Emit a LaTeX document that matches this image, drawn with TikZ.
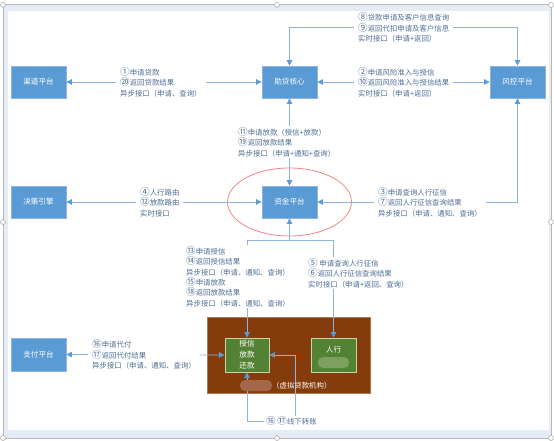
\documentclass[tikz,border=0pt]{standalone}
\usepackage{fontspec}
\setmainfont{Noto Sans CJK SC}
\newcommand\cnum[1]{{\fontsize{9.6}{10.4}\selectfont #1}}
\usetikzlibrary{arrows.meta,calc}
\definecolor{boxblue}{HTML}{5B9BD5}
\definecolor{boxborder}{HTML}{8DB4E2}
\definecolor{linec}{HTML}{8EB4DC}
\definecolor{arrowc}{HTML}{5B9BD5}
\definecolor{lbltext}{HTML}{4E6E96}
\definecolor{brownfill}{HTML}{843C0C}
\definecolor{brownborder}{HTML}{B07A50}
\definecolor{pillbrown}{HTML}{A5674A}
\definecolor{greenfill}{HTML}{548235}
\definecolor{greenborder}{HTML}{C5D6A8}
\definecolor{pillgreen}{HTML}{7DA05F}
\definecolor{redring}{HTML}{F4868A}
\definecolor{bandc}{HTML}{E6ECF5}
\definecolor{framec}{HTML}{B8B8B8}
\tikzset{
  bluebox/.style={draw=boxborder, fill=boxblue, text=white, line width=0.8pt,
    minimum width=55pt, minimum height=32pt, inner sep=0pt, font=\fontsize{7.6}{10}\selectfont},
  greenbox/.style={draw=greenborder, fill=greenfill, text=white, line width=0.8pt,
    minimum width=44pt, minimum height=34pt, inner sep=0pt, align=center,
    font=\fontsize{7.6}{11}\selectfont},
  lbl/.style={fill=white, text=lbltext, align=left, anchor=west, inner ysep=1pt, inner xsep=4pt,
    font=\fontsize{7.4}{10.4}\selectfont},
  conn/.style={draw=linec, line width=0.7pt},
  tipboth/.style={{Triangle[length=5.5pt,width=5.5pt,color=arrowc]}-{Triangle[length=5.5pt,width=5.5pt,color=arrowc]}},
  tipend/.style={-{Triangle[length=5.5pt,width=5.5pt,color=arrowc]}},
  tipstart/.style={{Triangle[length=5.5pt,width=5.5pt,color=arrowc]}-},
  handle/.style={draw=gray!70, fill=white, line width=0.5pt}
}
\begin{document}
\begin{tikzpicture}[x=1pt,y=-1pt]
\useasboundingbox (0,0) rectangle (554,441);
% frame
\fill[white] (0,0) rectangle (554,441);
\fill[bandc] (3,4) rectangle (551,438);
\draw[framec, line width=0.8pt] (3,4) rectangle (551,438);
\fill[white] (8,11) rectangle (549,430);
% boxes
\node[bluebox] (qd) at (38.5,82) {渠道平台};
\node[bluebox] (zd) at (289.5,82) {助贷核心};
\node[bluebox] (fk) at (517.5,82) {风控平台};
\node[bluebox] (jc) at (38.5,202) {决策引擎};
\node[bluebox] (zj) at (289.5,202) {资金平台};
\node[bluebox, minimum height=33pt] (zf) at (38.5,354.5) {支付平台};
\node[draw=brownborder, fill=brownfill, line width=0.6pt, minimum width=163pt, minimum height=76pt, inner sep=0pt] (jg) at (288.5,355) {};
\node[greenbox] (sx) at (247,355) {授信\\放款\\还款};
\node[greenbox, minimum width=45pt] (rh) at (333.5,355) {人行\\\phantom{人行}};
% red ring
\draw[redring, line width=0.8pt] (zj.center) ellipse [x radius=62pt, y radius=34pt];
% coordinates
\coordinate (topy) at (0,27.5);
\coordinate (br) at (289.5,240);
\coordinate (xr) at (295,416);
\coordinate (xl) at (264,421);
% connectors
\draw[conn, tipboth] (qd.east) -- (zd.west);
\draw[conn, tipboth] (zd.east) -- (fk.west);
\draw[conn, tipboth] (zd.north) |- (topy -| fk.north) -- (fk.north);
\draw[conn, tipboth] (zd.south) -- (zj.north);
\draw[conn, tipboth] (jc.east) -- (zj.west);
\draw[conn, tipboth] (fk.south) |- (zj.east);
\draw[conn, tipstart] (zj.south) -- (br);
\draw[conn, tipend] (br) -| (sx.north);
\draw[conn, tipend] (br) -| (rh.north);
\draw[conn, tipboth] (zf.east) -- (sx.west);
\draw[conn, tipend] (xl) -| (sx.south);
\draw[conn, tipend] (xr) |- (sx.east);
% redacted pills
\fill[rounded corners=5pt, fill=pillbrown] (240,380) rectangle (272,391);
\fill[rounded corners=5pt, fill=pillgreen] (318,357) rectangle (349,368);
\node[text=white, anchor=west, inner sep=0pt, font=\fontsize{7.4}{10}\selectfont] (xn) at (272,386) {（虚拟贷款机构）};
% labels
\node[lbl] (l1) at (116,82) {\cnum{①}申请贷款\\\cnum{⑳}返回贷款结果\\异步接口（申请、查询）};
\node[lbl] (l2) at (354,82) {\cnum{②}申请风险准入与授信\\\cnum{⑩}返回风险准入与授信结果\\实时接口（申请+返回）};
\node[lbl] (l3) at (354,27.5) {\cnum{⑧}贷款申请及客户信息查询\\\cnum{⑨}返回代扣申请及客户信息\\实时接口（申请+返回）};
\node[lbl] (l4) at (234,142) {\cnum{⑪}申请放款（授信+放款）\\\cnum{⑲}返回放款结果\\异步接口（申请+通知+查询）};
\node[lbl] (l5) at (136,202) {\cnum{④}人行路由\\\cnum{⑫}放款路由\\实时接口};
\node[lbl] (l6) at (374,202) {\cnum{③}申请查询人行征信\\\cnum{⑦}返回人行征信查询结果\\异步接口（申请、通知、查询）};
\node[lbl] (l7) at (182,276.5) {\cnum{⑬}申请授信\\\cnum{⑭}返回授信结果\\异步接口（申请、通知、查询）\\\cnum{⑮}申请放款\\\cnum{⑱}返回放款结果\\异步接口（申请、通知、查询）};
\node[lbl] (l8) at (304,273) {\cnum{⑤} 申请查询人行征信\\\cnum{⑥}返回人行征信查询结果\\实时接口（申请+返回、查询）};
\node[lbl] (l9) at (88,354.5) {\cnum{⑯}申请代付\\\cnum{⑰}返回代付结果\\异步接口（申请、通知、查询）};
\node[lbl, inner xsep=2pt] (l10) at (264,421) {\cnum{⑯} \cnum{⑰}线下转账};
% handles
\foreach \p in {(3,5),(277,5),(551,5),(3,222),(551,222),(3,438),(277,438),(551,438)}
  \filldraw[handle] \p circle (2.5pt);
\end{tikzpicture}
\end{document}
